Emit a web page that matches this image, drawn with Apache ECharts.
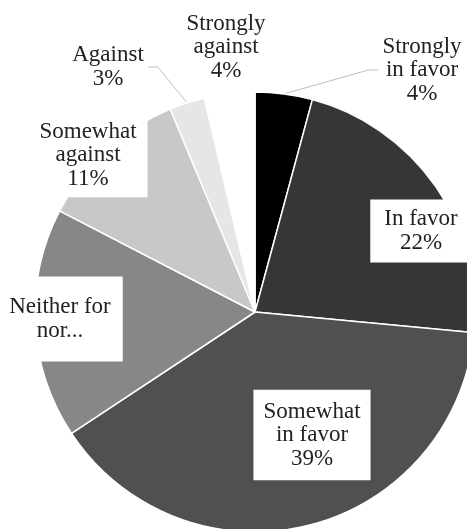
<!DOCTYPE html>
<html>
<head>
<meta charset="utf-8">
<script src="https://cdn.jsdelivr.net/npm/echarts@6/dist/echarts.min.js"></script>
<style>
html,body{margin:0;padding:0;background:#fff;}
#chart{width:467px;height:529px;}
</style>
</head>
<body>
<div id="chart"></div>
<script>
// ---- data ----
var categories = ['Strongly in favor','In favor','Somewhat in favor','Neither for nor against','Somewhat against','Against','Strongly against'];
var labelTexts = ['Strongly\nin favor','In favor','Somewhat\nin favor','Neither for\nnor...','Somewhat\nagainst','Against','Strongly\nagainst'];
var showPercent = [true, true, true, false, true, true, true];
var values = [4.2, 22.3, 39.2, 16.9, 11.1, 2.6, 3.7];

// ---- styles ----
var colors = ['#000000','#363636','#505050','#878787','#c8c8c8','#e6e6e6','#ffffff'];
var labelPadding = [[2,4],[8,14],[10,10],[19,12],[7,11],[2,4],[2,4]];
var showLeader = [true,false,false,false,false,true,false];
var labelCenter = [[422,70],[421,231],[312,435],[60,319],[88,155],[108,67],[226,47]];

var chart = echarts.init(document.getElementById('chart'), null, {renderer:'canvas'});
var data = categories.map(function(n,i){
  return {
    name: n,
    value: values[i],
    itemStyle: {color: colors[i]},
    label: {padding: labelPadding[i]},
    labelLine: {show: showLeader[i]}
  };
});
chart.setOption({
  backgroundColor: '#ffffff',
  animation: false,
  series: [{
    type: 'pie',
    center: [255, 312],
    radius: 220,
    startAngle: 90,
    clockwise: true,
    avoidLabelOverlap: false,
    itemStyle: {borderColor: '#ffffff', borderWidth: 1.5},
    label: {
      show: true,
      position: 'outside',
      formatter: function(p){
        var t = labelTexts[p.dataIndex];
        return showPercent[p.dataIndex] ? t + '\n' + Math.round(p.percent) + '%' : t;
      },
      fontFamily: 'Liberation Serif',
      fontSize: 23,
      lineHeight: 23.5,
      color: '#222222',
      backgroundColor: '#ffffff',
      align: 'center'
    },
    labelLine: {lineStyle: {color: '#bfbfbf', width: 1}, length: 10, length2: 10},
    labelLayout: function(p){
      var c = labelCenter[p.dataIndex];
      return {x: c[0], y: c[1], align: 'center', verticalAlign: 'middle'};
    },
    data: data
  }]
});
</script>
</body>
</html>
